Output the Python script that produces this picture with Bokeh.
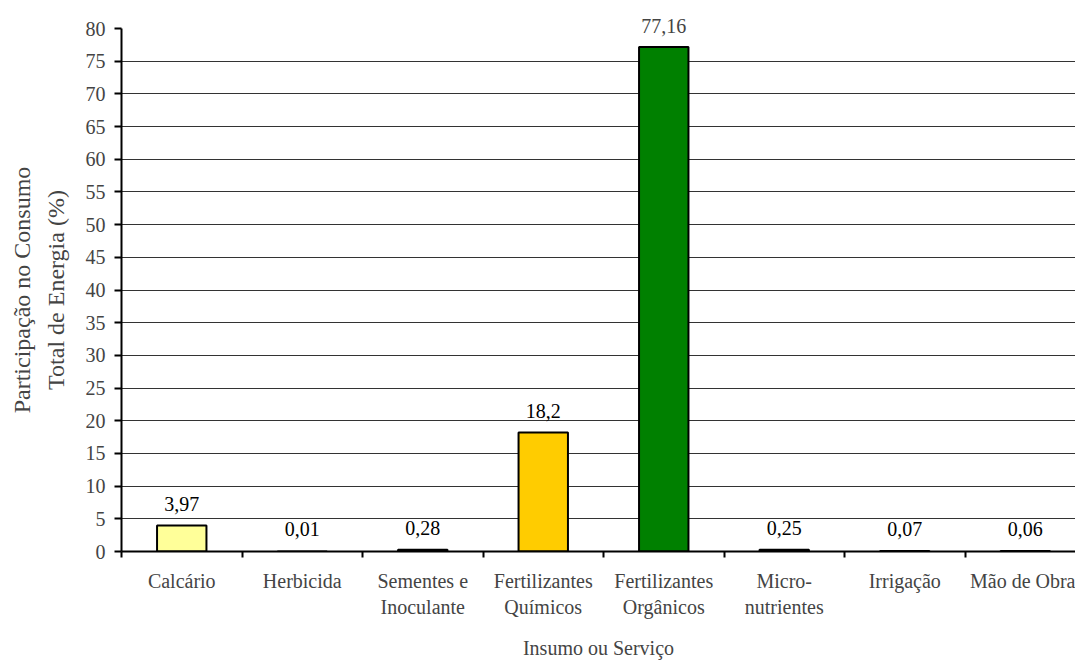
from bokeh.plotting import figure
from bokeh.models import Range1d, FixedTicker, LinearAxis, ColumnDataSource, LabelSet
from bokeh.core.properties import value
from bokeh.embed import file_html
from bokeh.resources import INLINE

# ---- data ----
categories = ["Calcário", "Herbicida", "Sementes e\nInoculante", "Fertilizantes\nQuímicos",
              "Fertilizantes\nOrgânicos", "Micro-\nnutrientes", "Irrigação", "Mão de Obra"]
values = [3.97, 0.01, 0.28, 18.2, 77.16, 0.25, 0.07, 0.06]
value_labels = ["3,97", "0,01", "0,28", "18,2", "77,16", "0,25", "0,07", "0,06"]
colors = ["#FFFF99", "#FFFF99", "#FFFF99", "#FFCC00", "#008000", "#FFFF99", "#FFFF99", "#FFFF99"]
y_ticks = list(range(0, 85, 5))
y_title_1 = "Participação no Consumo"
y_title_2 = "Total de Energia (%)"
x_title = "Insumo ou Serviço"

FONT = "'Liberation Serif', 'Times New Roman', serif"
FS = "20px"
FS_YT = "24px"

centers = [i + 0.5 for i in range(len(categories))]
boundaries = list(range(len(categories) + 1))
i_max = values.index(max(values))

src = ColumnDataSource(dict(x=centers, top=values, color=colors))
lab_src = ColumnDataSource(dict(
    x=[c for i, c in enumerate(centers) if i != i_max],
    y=[v for i, v in enumerate(values) if i != i_max],
    lab=[t for i, t in enumerate(value_labels) if i != i_max]))

p = figure(frame_width=954, frame_height=523,
           min_border_left=121, min_border_right=0, min_border_top=28, min_border_bottom=112,
           x_range=Range1d(0, 7.917), y_range=Range1d(0, 80),
           output_backend="svg", toolbar_location=None,
           background_fill_color="white", border_fill_color="white")
p.outline_line_color = None
p.xgrid.visible = False
p.ygrid.ticker = FixedTicker(ticks=y_ticks)
p.ygrid.grid_line_color = "#333333"
p.ygrid.grid_line_width = 1

p.vbar(x="x", top="top", width=0.41, source=src, fill_color="color",
       line_color="black", line_width=2)

labels = LabelSet(x="x", y="y", text="lab", source=lab_src, text_align="center",
                  text_baseline="middle", y_offset=22, text_font=value(FONT),
                  text_font_size=value(FS), text_color="black")
p.add_layout(labels)

# x axis: boundary tick marks only (the default bottom axis)
xa = p.below[0]
xa.ticker = FixedTicker(ticks=boundaries)
xa.major_label_overrides = {b: "" for b in boundaries}
xa.major_label_standoff = 0
xa.axis_line_width = 2
xa.major_tick_line_width = 2
xa.major_tick_out = 6
xa.major_tick_in = 0
xa.minor_tick_line_color = None

# value label of the tallest bar reaches above the frame: carried by a top axis
ta = LinearAxis(ticker=FixedTicker(ticks=[centers[i_max]]),
                major_label_overrides={centers[i_max]: value_labels[i_max]})
ta.axis_line_color = None
ta.major_tick_line_color = None
ta.minor_tick_line_color = None
ta.major_tick_out = 0
ta.major_tick_in = 0
ta.major_label_text_font = FONT
ta.major_label_text_font_size = FS
ta.major_label_standoff = -4
p.add_layout(ta, "above")

# y axis
ya = p.left[0]
ya.ticker = FixedTicker(ticks=y_ticks)
ya.axis_line_width = 2
ya.major_tick_line_width = 2
ya.major_tick_out = 7
ya.major_tick_in = 0
ya.minor_tick_line_color = None
ya.major_label_text_font = FONT
ya.major_label_text_font_size = FS
ya.major_label_standoff = 9
ya.axis_label = y_title_2
ya.axis_label_text_font = FONT
ya.axis_label_text_font_size = FS_YT
ya.axis_label_text_font_style = "normal"
ya.axis_label_standoff = 14

# outer left axis carrying the first title line
ya2 = LinearAxis(ticker=FixedTicker(ticks=[]))
ya2.axis_line_color = None
ya2.major_tick_line_color = None
ya2.minor_tick_line_color = None
ya2.major_tick_out = 0
ya2.major_tick_in = 0
ya2.major_label_standoff = 0
ya2.axis_label = y_title_1
ya2.axis_label_text_font = FONT
ya2.axis_label_text_font_size = FS_YT
ya2.axis_label_text_font_style = "normal"
ya2.axis_label_standoff = 5
p.add_layout(ya2, "left")

# x axis: category labels at centers
xa2 = LinearAxis(ticker=FixedTicker(ticks=centers),
                 major_label_overrides={c: lab for c, lab in zip(centers, categories)})
xa2.axis_line_color = None
xa2.major_tick_line_color = None
xa2.minor_tick_line_color = None
xa2.major_tick_out = 0
xa2.major_tick_in = 0
xa2.major_label_text_font = FONT
xa2.major_label_text_font_size = FS
xa2.major_label_standoff = 12
xa2.axis_label = x_title
xa2.axis_label_text_font = FONT
xa2.axis_label_text_font_size = FS
xa2.axis_label_text_font_style = "normal"
xa2.axis_label_standoff = 16
p.add_layout(xa2, "below")

open("out.html", "w").write(file_html(p, INLINE))
